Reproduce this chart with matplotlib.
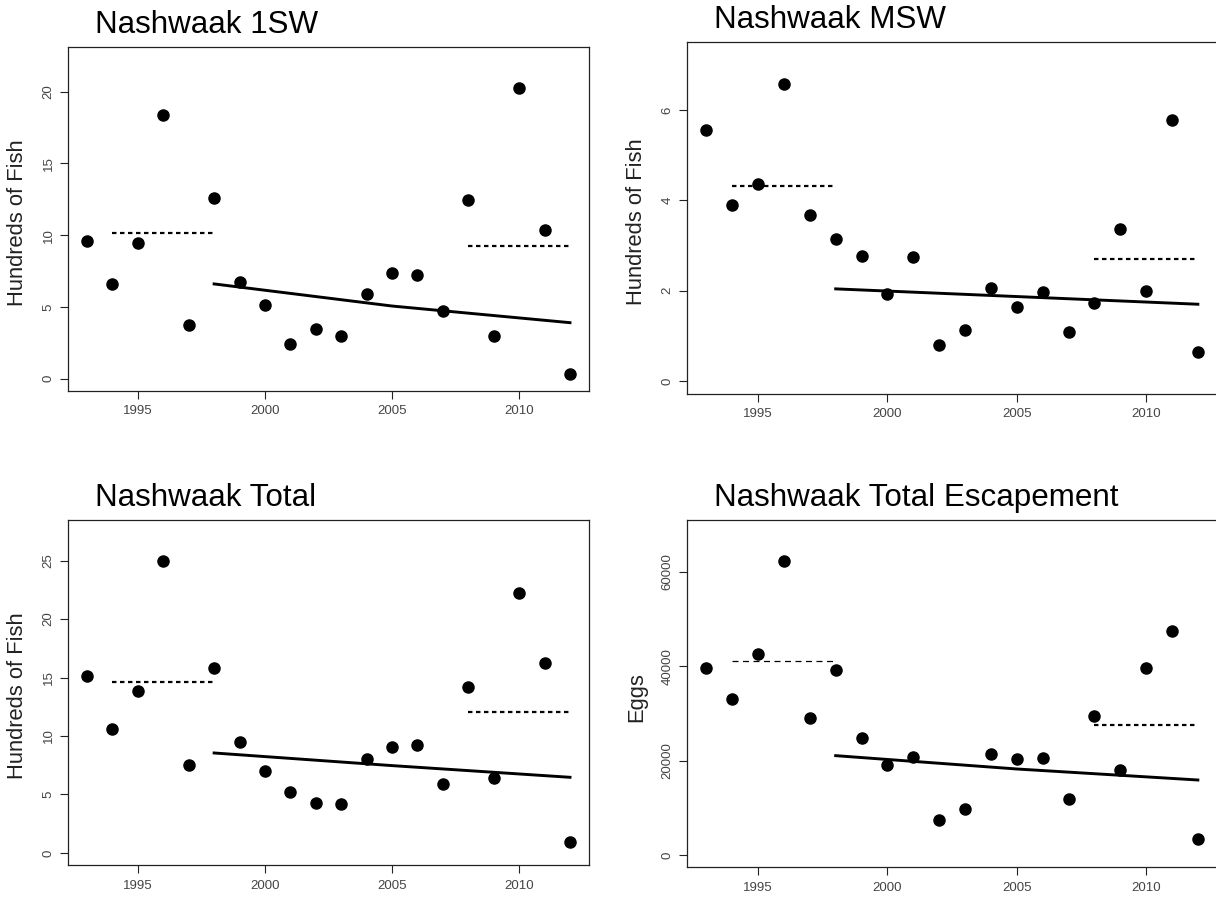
import matplotlib
matplotlib.use("Agg")
import matplotlib.pyplot as plt

plt.rcParams['font.family'] = ['Liberation Sans', 'DejaVu Sans']

years = list(range(1993, 2013))

one_sw = [9.59, 6.60, 9.48, 18.35, 3.74, 12.61, 6.71, 5.13, 2.44, 3.48,
          3.00, 5.92, 7.36, 7.22, 4.72, 12.43, 3.00, 20.26, 10.36, 0.35]
msw = [5.55, 3.89, 4.35, 6.57, 3.68, 3.14, 2.76, 1.93, 2.74, 0.80,
       1.13, 2.07, 1.63, 1.96, 1.08, 1.73, 3.37, 1.99, 5.77, 0.64]
total = [15.17, 10.58, 13.88, 24.97, 7.50, 15.82, 9.52, 7.04, 5.25, 4.28,
         4.16, 8.04, 9.07, 9.21, 5.90, 14.22, 6.41, 22.21, 16.25, 0.97]
eggs = [39550, 33000, 42520, 62260, 28980, 39270, 24820, 19040, 20730, 7400,
        9730, 21360, 20310, 20590, 11920, 29540, 17980, 39550, 47450, 3450]

# early (1994-1998) and recent (2008-2012) mean levels
early_span = [1994, 1998]
recent_span = [2008, 2012]
early_level = [10.15, 4.32, 14.6, 41180]
recent_level = [9.25, 2.70, 12.03, 27570]

# trend line read at 1998, 2005, 2012
trend_years = [1998, 2005, 2012]
trend_vals = [[6.60, 5.06, 3.90],
              [2.04, 1.87, 1.70],
              [8.55, 7.47, 6.47],
              [21080, 18260, 15930]]

titles = ["Nashwaak 1SW", "Nashwaak MSW", "Nashwaak Total",
          "Nashwaak Total Escapement"]
ylabels = ["Hundreds of Fish", "Hundreds of Fish", "Hundreds of Fish", "Eggs"]
yticks = [[0, 5, 10, 15, 20], [0, 2, 4, 6], [0, 5, 10, 15, 20, 25],
          [0, 20000, 40000, 60000]]
xticks = [1995, 2000, 2005, 2010]
series = [one_sw, msw, total, eggs]
ylims = [(-0.84, 23.13), (-0.28, 7.51), (-1.03, 28.5), (-2540, 71000)]

W, H = 1216, 898
fig = plt.figure(figsize=(W / 100, H / 100), dpi=100)

# axes boxes in pixels: left, right, top, bottom
boxes = [(67.7, 589.3, 46.7, 390.7),
         (686.7, 1217.5, 41.7, 393.7),
         (67.7, 589.3, 519.7, 865.0),
         (686.7, 1217.5, 519.7, 867.3)]
title_pos = [(94.8, 33.3), (713.5, 28.3), (94.8, 505.7), (713.5, 505.7)]

for i in range(4):
    l, r, t, b = boxes[i]
    ax = fig.add_axes([l / W, 1 - b / H, (r - l) / W, (b - t) / H])
    ax.plot(years, series[i], 'o', color='black', markersize=8, zorder=3)
    ax.plot(trend_years, trend_vals[i], '-', color='black', lw=2.1)
    if i == 3:
        ax.plot(early_span, [early_level[i]] * 2, color='black', lw=0.9,
                linestyle=(0, (4.8, 3.6)))
    else:
        ax.plot(early_span, [early_level[i]] * 2, color='black', lw=1.6,
                linestyle=(0, (2.0, 1.6)))
    ax.plot(recent_span, [recent_level[i]] * 2, color='black', lw=1.6,
            linestyle=(0, (2.0, 1.6)))
    ax.set_xlim(1992.24, 2012.76)
    ax.set_ylim(*ylims[i])
    ax.set_xticks(xticks)
    ax.set_xticklabels([str(x) for x in xticks])
    ax.set_yticks(yticks[i])
    ax.set_yticklabels([str(y) for y in yticks[i]], rotation=90, va='center')
    ax.tick_params(direction='out', length=5.5, width=0.8, colors='#222222',
                   labelcolor='#444444', labelsize=9.5)
    ax.tick_params(axis='x', pad=5)
    ax.tick_params(axis='y', pad=4)
    for s in ax.spines.values():
        s.set_linewidth(0.9)
        s.set_color('#222222')
    tx, ty = title_pos[i]
    fig.text(tx / W, 1 - ty / H, titles[i], ha='left', va='baseline',
             fontsize=22.6, color='black')
    fig.text((l - 49.7) / W, 1 - ((t + b) / 2 + 3.5) / H, ylabels[i],
             rotation=90, ha='center', va='center', fontsize=15.8,
             color='#222222')

fig.savefig("out.png", dpi=100)
